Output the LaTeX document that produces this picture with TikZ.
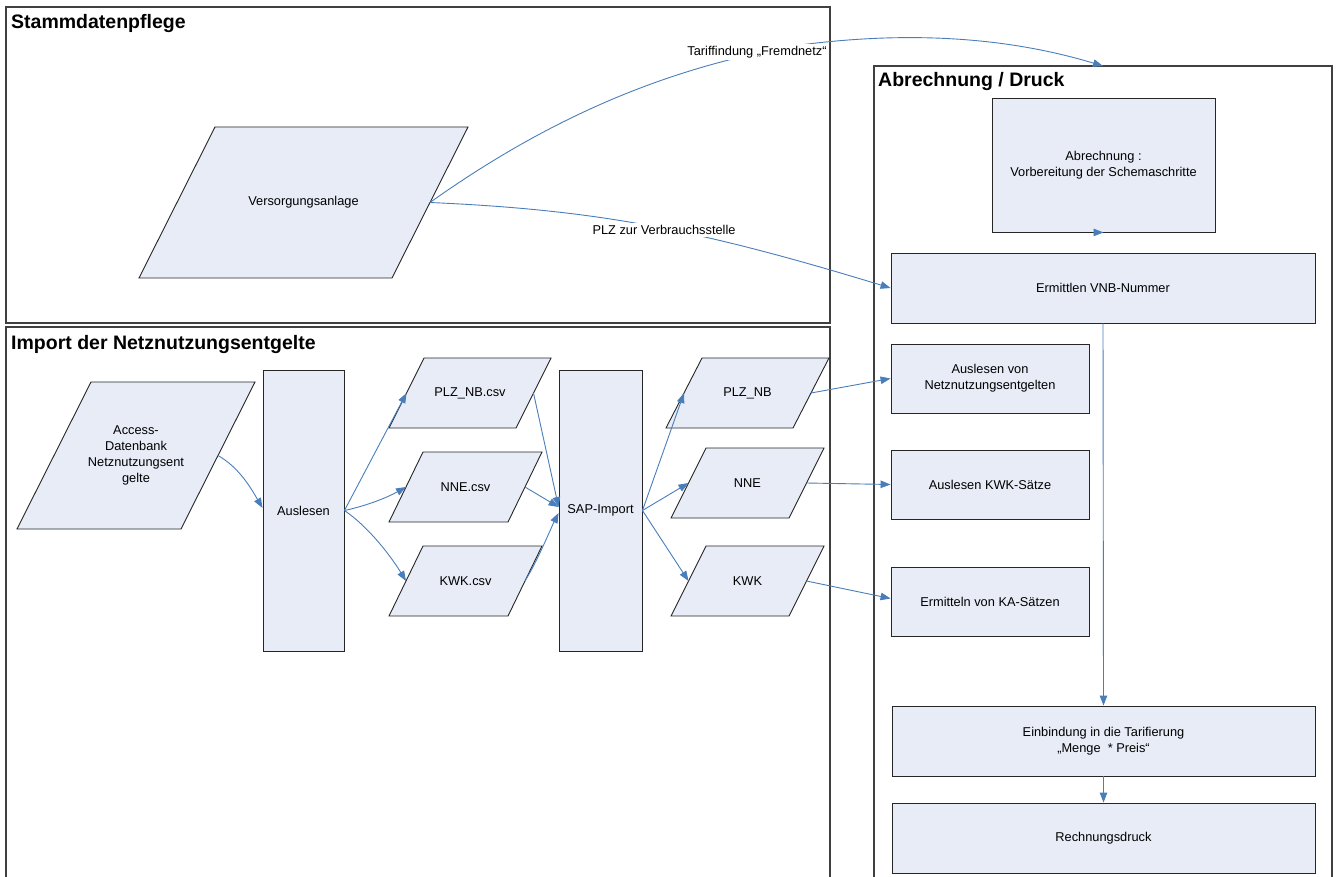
\documentclass[tikz,border=0pt]{standalone}
\usepackage{fontspec}
\setmainfont{Liberation Sans}
\usetikzlibrary{arrows.meta}
\definecolor{boxfill}{RGB}{231,236,247}
\definecolor{arrowblue}{RGB}{74,126,187}
\newcommand{\mypara}[7]{%
  \path[pshape] ({#2-#4/2+#6},{#3-#5/2}) -- ({#2+#4/2},{#3-#5/2}) -- ({#2+#4/2-#6},{#3+#5/2}) -- ({#2-#4/2},{#3+#5/2}) -- cycle;
  \node[ptext] (#1) at (#2,#3) {#7};
  \coordinate (#1-r) at ({#2+#4/2-#6/2},#3);
  \coordinate (#1-l) at ({#2-#4/2+#6/2},#3);
}
\begin{document}
\begin{tikzpicture}[x=1pt,y=-1pt,
  panel/.style={draw=black!75,line width=1.3pt},
  title/.style={anchor=base west,font=\fontsize{19.5}{22}\selectfont\bfseries,inner sep=0pt},
  box/.style={draw=black!85,line width=0.9pt,fill=boxfill,align=center,font=\fontsize{12.8}{16}\selectfont,inner sep=2pt},
  pshape/.style={draw=black!85,line width=0.9pt,fill=boxfill},
  ptext/.style={align=center,font=\fontsize{12.8}{16}\selectfont,inner sep=0pt},
  conn/.style={draw=arrowblue,line width=0.9pt,-{Triangle[length=10pt,width=7.5pt]}},
  lbl/.style={fill=white,font=\fontsize{12.8}{16}\selectfont,inner sep=2.5pt}]
\clip (0,0) rectangle (1338,877);
\fill[white] (0,0) rectangle (1338,877);
% panels
\draw[panel] (6,7) rectangle (830,323);
\draw[panel] (6,327) rectangle (830,900);
\draw[panel] (874,66) rectangle (1332,900);
\node[title] (t1) at (11,29) {Stammdatenpflege};
\node[title] (t2) at (11,349) {Import der Netznutzungsentgelte};
\node[title] (t3) at (878,87) {Abrechnung / Druck};
% parallelograms
\mypara{va}{303.5}{202.5}{329}{151}{76}{Versorgungsanlage}
\mypara{acc}{136}{455.5}{238}{147}{74}{Access-\\Datenbank\\Netznutzungsent\\gelte}
\mypara{plzc}{470}{393}{162}{70}{35}{PLZ\_NB.csv}
\mypara{nnec}{465.5}{487}{153}{70}{34}{NNE.csv}
\mypara{kwkc}{465.5}{581}{153}{70}{34}{KWK.csv}
\mypara{plz}{747.5}{393}{163}{70}{36}{PLZ\_NB}
\mypara{nne}{747.5}{483}{153}{70}{35}{NNE}
\mypara{kwk}{747.5}{581}{153}{70}{35}{KWK}
% rectangles
\node[box,minimum width=81pt,minimum height=281pt] (aus) at (303.5,510.5) {Auslesen};
\node[box,minimum width=83pt,minimum height=281pt] (sap) at (600.5,510.5) {SAP-Import};
\node[box,minimum width=223pt,minimum height=134pt] (abr) at (1103.5,165) {\raisebox{7pt}{\begin{tabular}{@{}c@{}}Abrechnung :\\Vorbereitung der Schemaschritte\end{tabular}}};
\node[box,minimum width=424pt,minimum height=70pt] (vnb) at (1103,288) {Ermittlen VNB-Nummer};
\node[box,minimum width=198pt,minimum height=69pt] (avn) at (990,378.5) {Auslesen von\\Netznutzungsentgelten};
\node[box,minimum width=198pt,minimum height=69pt] (ak) at (990,484.5) {Auslesen KWK-Sätze};
\node[box,minimum width=198pt,minimum height=69pt] (eka) at (990,601.5) {Ermitteln von KA-Sätzen};
\node[box,minimum width=423pt,minimum height=70pt] (einb) at (1103.5,741) {Einbindung in die Tarifierung\\„Menge~~* Preis“};
\node[box,minimum width=423pt,minimum height=70pt] (rech) at (1103.5,838) {Rechnungsdruck};
\coordinate (abrtop) at (1103,66);
% connectors
\draw[conn] (va-r) .. controls (560,110) and (680,65) .. (800,45) .. controls (900,32) and (1000,35) .. (abrtop);
\draw[conn] (va-r) .. controls (600,210) and (700,230) .. (vnb.west);
\draw[conn] ([xshift=-10pt]abr.south) -- (abr.south);
\draw[conn] (vnb.south) -- (einb.north);
\draw[conn] (einb.south) -- (rech.north);
\draw[conn] (acc-r) .. controls (240,468) and (252,490) .. ([yshift=2.5pt]aus.west);
\draw[conn] (aus.east) -- (plzc-l);
\draw[conn] (aus.east) .. controls (370,505) and (390,496) .. (nnec-l);
\draw[conn] (aus.east) .. controls (370,528) and (392,558) .. (kwkc-l);
\draw[conn] (plzc-r) -- ([yshift=3.5pt]sap.west);
\draw[conn] (nnec-r) -- ([yshift=3.5pt]sap.west);
\draw[conn] (kwkc-r) .. controls (538,560) and (550,530) .. ([yshift=-2.5pt]sap.west);
\draw[conn] (sap.east) -- (plz-l);
\draw[conn] (sap.east) -- (nne-l);
\draw[conn] (sap.east) -- (kwk-l);
\draw[conn] (plz-r) -- (avn.west);
\draw[conn] (nne-r) -- (ak.west);
\draw[conn] (kwk-r) -- ([yshift=3pt]eka.west);
% labels
\node[lbl] (lt) at (757,52) {Tariffindung „Fremdnetz“};
\node[lbl] (lp) at (664,230) {PLZ zur Verbrauchsstelle};
\end{tikzpicture}
\end{document}
